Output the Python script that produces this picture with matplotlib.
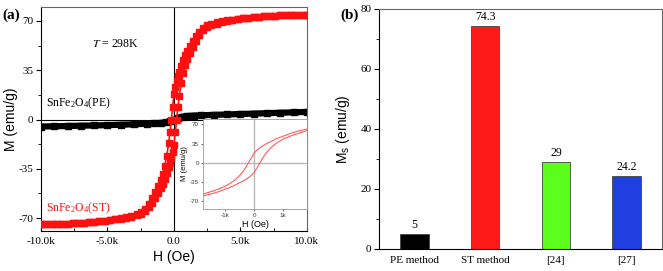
import matplotlib
matplotlib.use("Agg")
import matplotlib.pyplot as plt
from matplotlib.ticker import MultipleLocator

plt.rcParams["font.family"] = "Liberation Serif"
plt.rcParams["mathtext.fontset"] = "stix"
plt.rcParams["mathtext.default"] = "regular"

# ── (a) hysteresis loops ─────────────────────────────────────────────
H = [-10000, -9600, -9200, -8800, -8400, -8000, -7600, -7200, -6800, -6400,
     -6000, -5600, -5200, -4800, -4400, -4000, -3600, -3200, -2800, -2500,
     -2200, -1900, -1650, -1400, -1200, -1000, -850, -700, -550, -400,
     -300, -200, -100, 0, 100, 200, 300, 400, 550, 700,
     850, 1000, 1200, 1400, 1650, 1900, 2200, 2500, 2800, 3200,
     3600, 4000, 4400, 4800, 5200, 5600, 6000, 6400, 6800, 7200,
     7600, 8000, 8400, 8800, 9200, 9600, 10000]

# ST sample, field sweeping down (upper branch)
M_st_down = [-74.5, -74.3, -74.2, -74.1, -74.0, -73.9, -73.7, -73.5, -73.2, -72.9,
             -72.6, -72.2, -71.8, -71.3, -70.8, -70.1, -69.3, -68.2, -66.8, -65.4,
             -63.3, -60.3, -55.5, -51.5, -47.5, -43.0, -38.5, -33.0, -26.0, -17.0,
             -9.0, 0.0, 9.0, 18.0, 23.0, 27.5, 31.0, 34.0, 38.0, 42.0,
             45.5, 48.5, 52.5, 56.0, 59.5, 62.5, 65.2, 66.8, 67.9, 69.0,
             69.9, 70.5, 71.0, 71.5, 71.9, 72.3, 72.7, 73.0, 73.3, 73.6,
             73.8, 74.0, 74.1, 74.2, 74.3, 74.4, 74.5]

# ST sample, field sweeping up (lower branch)
M_st_up = [-74.5, -74.4, -74.3, -74.2, -74.1, -74.0, -73.8, -73.6, -73.3, -73.0,
           -72.7, -72.3, -71.9, -71.5, -71.0, -70.5, -69.9, -69.0, -67.9, -66.8,
           -65.2, -62.5, -59.5, -56.0, -52.5, -48.5, -45.5, -42.0, -38.0, -34.0,
           -31.0, -27.5, -23.0, -18.0, -9.0, 0.0, 9.0, 17.0, 26.0, 33.0,
           38.5, 43.0, 47.5, 51.5, 55.5, 60.3, 63.3, 65.4, 66.8, 68.2,
           69.3, 70.1, 70.8, 71.3, 71.8, 72.2, 72.6, 72.9, 73.2, 73.5,
           73.7, 73.9, 74.0, 74.1, 74.2, 74.3, 74.5]

H_pe = [-10000, -9000, -8000, -7000, -6000, -5000, -4000, -3000, -2000, -1500,
        -1000, -600, -300, 0, 300, 600, 1000, 1500, 2000, 3000,
        4000, 5000, 6000, 7000, 8000, 9000, 10000]
M_pe = [-5.0, -4.8, -4.6, -4.4, -4.2, -4.0, -3.7, -3.4, -3.0, -2.7,
        -2.4, -2.0, -1.4, -0.2, 1.2, 2.0, 2.5, 2.8, 3.0, 3.3,
        3.6, 3.9, 4.2, 4.5, 4.8, 5.1, 5.4]

x_ticks = [-10000, -5000, 0, 5000, 10000]
x_tick_labels = ["-10.0k", "-5.0k", "0.0", "5.0k", "10.0k"]
y_ticks = [-70, -35, 0, 35, 70]
y_tick_labels = ["-70", "-35", "0", "35", "70"]
inset_x_ticks = [-1000, 0, 1000]
inset_x_labels = ["-1k", "0", "1k"]

# ── (b) saturation magnetisation ─────────────────────────────────────
methods = ["PE method", "ST method", "[24]", "[27]"]
ms_values = [5, 74.3, 29, 24.2]
ms_labels = ["5", "74.3", "29", "24.2"]
bar_colors = ["#000000", "#ff1a1a", "#5cff1c", "#1f3fe0"]

RED = "#ff1010"
SANS = "Liberation Sans"

fig = plt.figure(figsize=(6.63, 2.71), dpi=100)

# ── panel (a) ────────────────────────────────────────────────────────
ax = fig.add_axes([0.0618, 0.1476, 0.4012, 0.8264])
ax.axhline(0, color="black", lw=0.8, zorder=1)
ax.axvline(0, color="black", lw=0.8, zorder=1)
ax.plot(H_pe, M_pe, color="black", lw=4.5, marker="s", ms=4.5, zorder=2)
ax.plot(H, M_st_down, color=RED, lw=1.2, marker="s", ms=4.3, zorder=3)
ax.plot(H, M_st_up, color=RED, lw=1.2, marker="s", ms=4.3, zorder=3)
ax.set_xlim(-10000, 10000)
ax.set_ylim(-79.2, 79.9)
ax.set_xticks(x_ticks)
ax.set_xticklabels(x_tick_labels)
ax.set_yticks(y_ticks)
ax.set_yticklabels(y_tick_labels)
ax.xaxis.set_minor_locator(MultipleLocator(2500))
ax.yaxis.set_minor_locator(MultipleLocator(17.5))
ax.tick_params(axis="x", which="both", direction="in", labelsize=8, pad=4)
ax.tick_params(axis="x", which="major", length=3)
ax.tick_params(axis="x", which="minor", length=2)
ax.tick_params(axis="y", which="both", direction="out", labelsize=8, pad=2)
ax.tick_params(axis="y", which="major", length=3.5)
ax.tick_params(axis="y", which="minor", length=2)
for s in ("top", "right"):
    ax.spines[s].set_color("#666666")
ax.set_xlabel("H (Oe)", family=SANS, fontsize=10, labelpad=3)
ax.set_ylabel("M (emu/g)", family=SANS, fontsize=10)
ax.yaxis.set_label_coords(-0.088, 0.5)

ax.text(-4400, 53.5, "$\\mathit{T}$ = 298K", fontsize=8.5, ha="center", va="center")
ax.text(-9600, 11.5, "SnFe$_2$O$_4$(PE)", fontsize=8.5, va="center")
ax.text(-9600, -63, "SnFe$_2$O$_4$(ST)", fontsize=8.5, va="center", color=RED)
fig.text(0.003, 0.945, "(a)", fontsize=11, fontweight="bold", va="center")

# inset
axi = fig.add_axes([0.3062, 0.2288, 0.1568, 0.332])
axi.set_facecolor("white")
axi.axhline(0, color="#b8b8b8", lw=1.0)
axi.axvline(0, color="#b8b8b8", lw=1.0)
axi.plot(H, M_st_down, color="#ff5a5a", lw=0.8)
axi.plot(H, M_st_up, color="#ff5a5a", lw=0.8)
axi.set_xlim(-1780, 1830)
axi.set_ylim(-85, 80)
axi.set_xticks(inset_x_ticks)
axi.set_xticklabels(inset_x_labels)
axi.set_yticks(y_ticks)
axi.set_yticklabels(y_tick_labels)
axi.tick_params(labelsize=4.5, length=1.5, width=0.5, pad=1.5, colors="#333333")
for lab in axi.get_xticklabels() + axi.get_yticklabels():
    lab.set_family(SANS)
for s in axi.spines.values():
    s.set_color("#999999")
    s.set_linewidth(0.6)
axi.set_xlabel("H (Oe)", family=SANS, fontsize=6.5, labelpad=1)
axi.set_ylabel("M (emu/g)", family=SANS, fontsize=5.5, labelpad=1)

# ── panel (b) ────────────────────────────────────────────────────────
ax2 = fig.add_axes([0.5717, 0.0812, 0.4268, 0.8856])
pos = list(range(len(methods)))
bars = ax2.bar(pos, ms_values, width=0.4, color=bar_colors,
               edgecolor="#444444", linewidth=0.6)
ax2.bar_label(bars, labels=ms_labels, padding=2.5, fontsize=8.5)
ax2.set_xlim(-0.5, 3.5)
ax2.set_ylim(0, 80)
ax2.set_xticks(pos)
ax2.set_xticklabels(methods)
ax2.set_yticks([0, 20, 40, 60, 80])
ax2.yaxis.set_minor_locator(MultipleLocator(10))
ax2.tick_params(axis="x", length=0, labelsize=8, pad=5)
ax2.tick_params(axis="y", which="both", direction="out", labelsize=8, pad=2)
ax2.tick_params(axis="y", which="major", length=3.5)
ax2.tick_params(axis="y", which="minor", length=2)
for s in ("top", "right"):
    ax2.spines[s].set_color("#666666")
ax2.set_ylabel("M$_s$ (emu/g)", family=SANS, fontsize=10)
ax2.yaxis.set_label_coords(-0.095, 0.5)
fig.text(0.513, 0.945, "(b)", fontsize=11, fontweight="bold", va="center")

fig.savefig("out.png", dpi=100, facecolor="white")
